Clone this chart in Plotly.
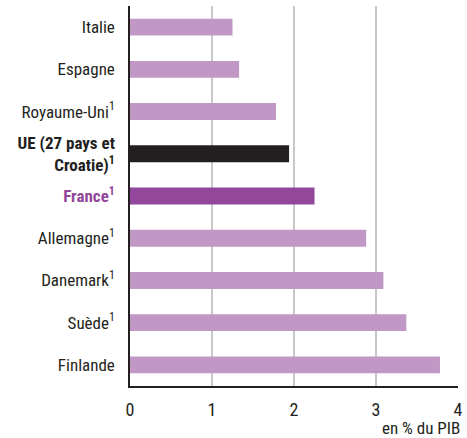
import plotly.graph_objects as go

countries = ["Italie", "Espagne", "Royaume-Uni<sup>1</sup>", "UE (27 pays et<br>Croatie)<sup>1</sup>",
             "France<sup>1</sup>", "Allemagne<sup>1</sup>", "Danemark<sup>1</sup>", "Suède<sup>1</sup>", "Finlande"]
values = [1.25, 1.33, 1.78, 1.94, 2.25, 2.88, 3.09, 3.37, 3.78]
colors = ["#c097c5", "#c097c5", "#c097c5", "#231f20", "#93479a", "#c097c5", "#c097c5", "#c097c5", "#c097c5"]
x_ticks = [0, 1, 2, 3, 4]

FONT = "Liberation Sans Narrow, Roboto Condensed, DejaVu Sans Condensed, sans-serif"

labels = []
for c in countries:
    if c.startswith("UE"):
        labels.append("<b>" + c + "</b>")
    elif c.startswith("France"):
        labels.append("<b><span style='color:#93479a'>" + c + "</span></b>")
    else:
        labels.append(c)

ypos = list(range(len(countries)))

fig = go.Figure(go.Bar(
    x=values, y=ypos, orientation="h",
    marker=dict(color=colors, line=dict(width=0)),
    width=0.4,
    hoverinfo="skip",
))

fig.update_layout(
    width=467, height=438,
    margin=dict(l=130, r=9, t=6, b=52, autoexpand=False),
    plot_bgcolor="white", paper_bgcolor="white",
    font=dict(family=FONT, size=17, color="#231f20"),
    showlegend=False,
    xaxis=dict(range=[0, 4], tickvals=x_ticks, ticktext=[str(v) for v in x_ticks],
               showgrid=True, gridcolor="#c8c8c8", gridwidth=1.5,
               showline=True, linecolor="#231f20", linewidth=1.5,
               ticks="", ticklabelstandoff=7, zeroline=False,
               tickfont=dict(size=18), automargin=False),
    yaxis=dict(range=[len(countries) - 0.5, -0.5], tickvals=ypos, ticktext=labels,
               showgrid=False, showline=True, linecolor="#231f20", linewidth=1.5,
               ticks="", ticklabelstandoff=10, zeroline=False,
               tickfont=dict(size=17), automargin=False),
    annotations=[dict(text="en % du PIB", xref="paper", yref="paper", x=1.012, y=-0.11,
                      xanchor="right", yanchor="middle", showarrow=False,
                      font=dict(size=17, family=FONT, color="#231f20"))],
)

fig.write_html("out.html", config={"displayModeBar": False},
               post_script="document.body.style.margin='0';document.body.style.overflow='hidden';")
